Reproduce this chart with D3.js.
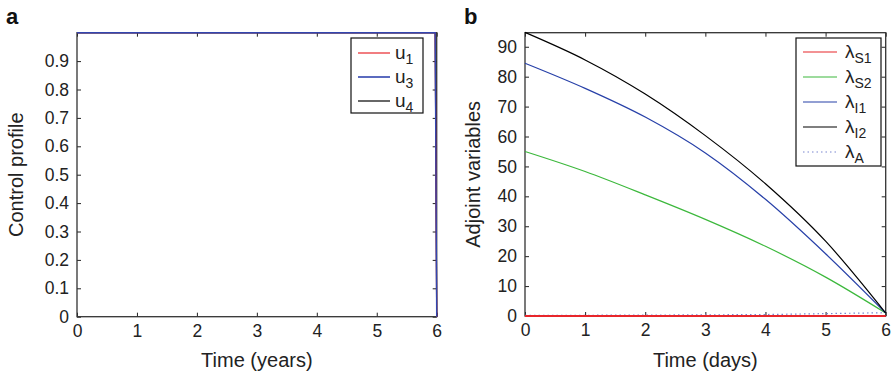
<!DOCTYPE html>
<html><head><meta charset="utf-8">
<script src="https://cdn.jsdelivr.net/npm/d3@7"></script>
<style>body{margin:0;background:#fff}svg{display:block;font-family:"Liberation Sans",Arial,sans-serif}</style>
</head><body><svg id="c" width="893" height="384"></svg>
<script>
// Panel a data
const timeA = [0, 5.975, 6];
const u1 = [1, 1, 0];
const u3 = [1, 1, 0];
const u4 = [1, 1, 0];
const ticksAX = [0,1,2,3,4,5,6];
const ticksAY = [0,0.1,0.2,0.3,0.4,0.5,0.6,0.7,0.8,0.9];
// Panel b data
const timeB = [0,1,2,3,4,5,6];
const lamS1 = [0,0,0,0,0,0,0];
const lamS2 = [55,48.3,40.5,32.3,23.3,13.0,1.0];
const lamI1 = [84.5,76.1,66.5,54.5,39.0,20.8,1.0];
const lamI2 = [94.8,85.6,74.2,60.3,44.2,25.0,1.0];
const lamA  = [0.2,0.25,0.3,0.4,0.5,0.8,1.1];
const ticksBX = [0,1,2,3,4,5,6];
const ticksBY = [0,10,20,30,40,50,60,70,80,90];

const svg = d3.select("#c");

function panel(o){
  const g = svg.append("g");
  const x = d3.scaleLinear().domain([0,6]).range([o.x0,o.x1]);
  const y = d3.scaleLinear().domain(o.yd).range([o.y0,o.y1]);
  // axes box
  const ax = d3.axisBottom(x).tickValues(o.tx).tickSize(-4).tickPadding(8).tickFormat(d3.format("d"));
  const axt = d3.axisTop(x).tickValues(o.tx).tickSize(-4).tickFormat("");
  const ay = d3.axisLeft(y).tickValues(o.ty).tickSize(-4).tickPadding(8).tickFormat(o.fy);
  const ayr = d3.axisRight(y).tickValues(o.ty).tickSize(-4).tickFormat("");
  const style = sel=>{sel.select(".domain").remove();sel.selectAll("line").attr("stroke","#222");
    sel.selectAll("text").attr("font-size",17.5).attr("fill","#222").attr("font-family","Liberation Sans, Arial, sans-serif");};
  g.append("g").attr("transform",`translate(0,${o.y0})`).call(ax).call(style);
  g.append("g").attr("transform",`translate(0,${o.y1})`).call(axt).call(style);
  g.append("g").attr("transform",`translate(${o.x0},0)`).call(ay).call(style);
  g.append("g").attr("transform",`translate(${o.x1},0)`).call(ayr).call(style);
  g.append("rect").attr("x",o.x0).attr("y",o.y1).attr("width",o.x1-o.x0).attr("height",o.y0-o.y1)
    .attr("fill","none").attr("stroke","#333").attr("stroke-width",1.3);
  // series
  const line = d3.line().x(d=>x(d[0])).y(d=>y(d[1])).curve(o.curve);
  o.series.forEach(s=>{
    g.append("path").datum(o.t.map((t,i)=>[t,s.v[i]]))
      .attr("d",line).attr("fill","none").attr("stroke",s.c)
      .attr("stroke-width",s.w||1.2).attr("stroke-dasharray",s.dash||null);
  });
  // titles
  g.append("text").attr("x",(o.x0+o.x1)/2).attr("y",367).attr("text-anchor","middle")
    .attr("font-size",20).attr("fill","#222").text(o.xt);
  g.append("text").attr("transform",`translate(${o.ylx},${(o.y0+o.y1)/2}) rotate(-90)`)
    .attr("text-anchor","middle").attr("font-size",20).attr("fill","#222").text(o.yt);
  g.append("text").attr("x",o.lx).attr("y",24).attr("font-size",22).attr("font-weight","bold").attr("fill","#111").text(o.label);
  // legend
  const L = o.leg;
  g.append("rect").attr("x",L.x).attr("y",L.y).attr("width",L.w).attr("height",L.h)
    .attr("fill","#fff").attr("stroke","#111").attr("stroke-width",1.2);
  L.items.forEach((it,i)=>{
    const yy = L.y + L.r0 + i*L.dy;
    g.append("line").attr("x1",L.lx0).attr("x2",L.lx1).attr("y1",yy).attr("y2",yy)
      .attr("stroke",it.c).attr("stroke-width",it.w||1.2).attr("stroke-dasharray",it.dash||null);
    const t = g.append("text").attr("x",L.tx).attr("y",yy+6).attr("font-size",19).attr("fill","#222");
    t.append("tspan").text(it.m);
    t.append("tspan").attr("dy",5).attr("font-size",14).text(it.s);
  });
}

panel({x0:77,x1:436.7,y0:316.7,y1:32.7,yd:[0,1],t:timeA,curve:d3.curveLinear,
  tx:ticksAX,ty:ticksAY,fy:d=>d===0?"0":d3.format(".1f")(d),
  series:[{v:u4,c:"#000"},{v:u1,c:"#e8262b"},{v:u3,c:"#3346b0",w:1.4}],
  xt:"Time (years)",yt:"Control profile",ylx:23,lx:6,label:"a",
  leg:{x:351,y:38,w:72,h:75,r0:15,dy:24,lx0:358,lx1:390,tx:395,
    items:[{m:"u",s:"1",c:"#e8262b"},{m:"u",s:"3",c:"#3346b0",w:1.6},{m:"u",s:"4",c:"#000"}]}});

panel({x0:525,x1:885.7,y0:316,y1:32.7,yd:[0,94.7],t:timeB,curve:d3.curveMonotoneX,
  tx:ticksBX,ty:ticksBY,fy:d3.format("d"),
  series:[{v:lamA,c:"#7a86d0",dash:"1.5,3"},{v:lamS2,c:"#3cb83c"},{v:lamI1,c:"#2740a8"},{v:lamI2,c:"#000"},{v:lamS1,c:"#e8262b",w:2.2}],
  xt:"Time (days)",yt:"Adjoint variables",ylx:480,lx:464,label:"b",
  leg:{x:796,y:38,w:85,h:128,r0:14,dy:25,lx0:803,lx1:837,tx:845,
    items:[{m:"λ",s:"S1",c:"#e8262b"},{m:"λ",s:"S2",c:"#3cb83c"},{m:"λ",s:"I1",c:"#2740a8"},{m:"λ",s:"I2",c:"#000"},{m:"λ",s:"A",c:"#7a86d0",dash:"1.5,3"}]}});
</script></body></html>
